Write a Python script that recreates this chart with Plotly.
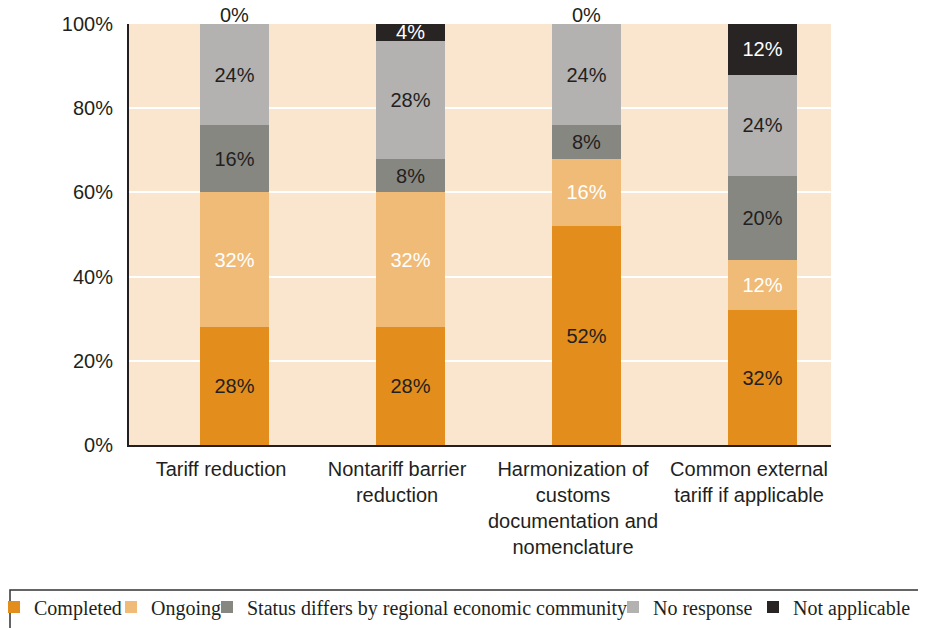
import plotly.graph_objects as go

categories = [
    "Tariff reduction",
    "Nontariff barrier<br>reduction",
    "Harmonization of<br>customs<br>documentation and<br>nomenclature",
    "Common external<br>tariff if applicable",
]
completed = [28, 28, 52, 32]
ongoing = [32, 32, 16, 12]
status_differs = [16, 8, 8, 20]
no_response = [24, 28, 24, 24]
not_applicable = [0, 4, 0, 12]
y_ticks = [0, 20, 40, 60, 80, 100]
y_tick_labels = ["0%", "20%", "40%", "60%", "80%", "100%"]

series = [
    ("Completed", completed, "#E38E1C", "#231F20"),
    ("Ongoing", ongoing, "#F0BB76", "#FFFFFF"),
    ("Status differs by regional economic community", status_differs, "#878782", "#231F20"),
    ("No response", no_response, "#B3B2B0", "#231F20"),
    ("Not applicable", not_applicable, "#282424", "#FFFFFF"),
]

# page body has an 8px margin; work in reference pixel coords shifted by it
SH = 8
W, H = 926, 628
L, R, T, B = 129 - SH, 831 - SH, 24 - SH, 445 - SH
PW, PH = R - L, B - T

def px_x(p):
    return (p - SH - L) / PW

def px_y(p):
    return (B - (p - SH)) / PH

BAR_W, BAR_OFF = 0.392, -0.119

legend_text_x = [36, 153, 249, 655, 795]
legend_names = ["legend", "legend2", "legend3", "legend4", "legend5"]
font_sans = "Liberation Sans, Arial"

fig = go.Figure()
for i, (name, vals, color, tcol) in enumerate(series):
    fig.add_trace(go.Bar(
        x=categories, y=vals, name=name,
        marker=dict(color=color, line=dict(width=0)),
        width=BAR_W, offset=BAR_OFF,
        text=[f"{v}%" if v != 0 else "" for v in vals],
        texttemplate="%{text}", textposition="inside", textangle=0,
        insidetextanchor="middle",
        insidetextfont=dict(color=tcol, size=20, family=font_sans),
        cliponaxis=False, constraintext="none",
        legend=legend_names[i], hoverinfo="skip",
    ))

# zero-valued top segments: label above the stack
totals = [sum(s[1][k] for s in series) for k in range(len(categories))]
annotations = []
for k, v in enumerate(not_applicable):
    if v == 0:
        annotations.append(dict(
            x=k + BAR_OFF + BAR_W / 2, y=totals[k], xref="x", yref="y",
            text=f"{v}%", showarrow=False, yanchor="middle", yshift=9,
            font=dict(family=font_sans, size=20, color="#231F20"),
        ))

layout_legends = {}
for i, ln in enumerate(legend_names):
    layout_legends[ln] = dict(
        orientation="h", x=px_x(legend_text_x[i] - 42), xanchor="left",
        y=px_y(607), yanchor="middle",
        font=dict(family="Liberation Serif, Times New Roman", size=20, color="#231F20"),
        bgcolor="rgba(0,0,0,0)", borderwidth=0,
    )

fig.update_layout(
    width=W, height=H,
    margin=dict(l=L, r=W - R, t=T, b=H - B, autoexpand=False),
    paper_bgcolor="white", plot_bgcolor="#FAE6CF",
    barmode="stack",
    uniformtext=dict(minsize=20, mode="show"),
    font=dict(family=font_sans, size=20, color="#231F20"),
    showlegend=True,
    xaxis=dict(
        type="category", range=[-0.523, 3.466],
        showgrid=False, showline=True, linecolor="#231F20", linewidth=2,
        ticks="", ticklabelstandoff=5,
        tickfont=dict(size=20, color="#231F20"),
    ),
    yaxis=dict(
        range=[0, 100], tickvals=y_ticks, ticktext=y_tick_labels,
        showgrid=True, gridcolor="white", gridwidth=2,
        showline=True, linecolor="#231F20", linewidth=2,
        ticks="", ticklabelstandoff=10, zeroline=False,
        tickfont=dict(size=20, color="#231F20"),
    ),
    annotations=annotations,
    shapes=[dict(
        type="rect", xref="paper", yref="paper",
        x0=px_x(10), x1=px_x(920), y0=px_y(632), y1=px_y(590),
        line=dict(color="#333333", width=1.5), fillcolor="rgba(0,0,0,0)",
    )],
    **layout_legends,
)

fig.write_html("out.html")
